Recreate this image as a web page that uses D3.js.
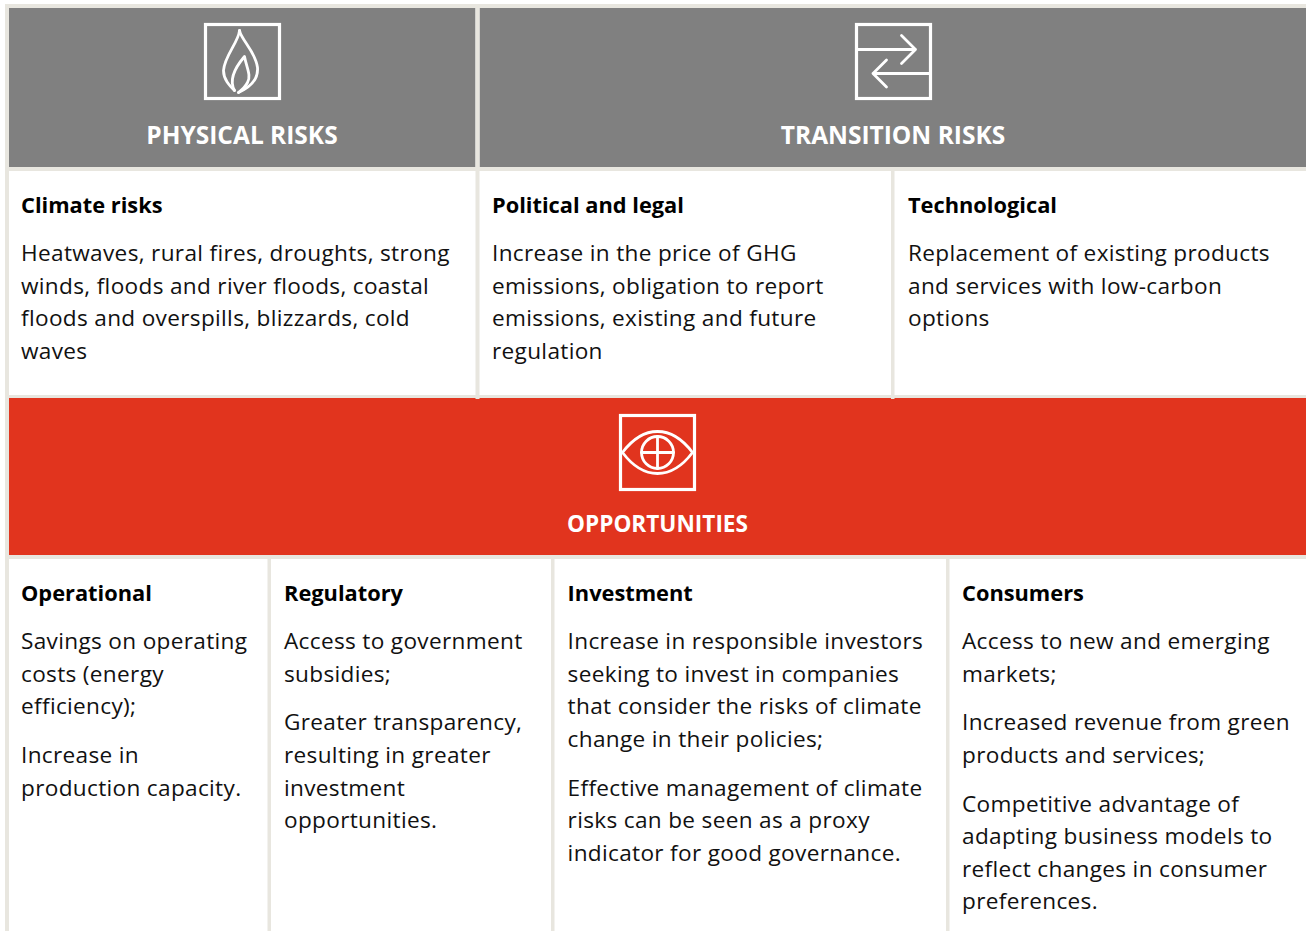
<!DOCTYPE html>
<html>
<head>
<meta charset="utf-8">
<script src="https://cdn.jsdelivr.net/npm/d3@7"></script>
<style>
  html, body { margin: 0; padding: 0; background: #fff; overflow: hidden; }
  text { font-family: "Open Sans", sans-serif; }
</style>
</head>
<body>
<svg id="chart"></svg>
<script>
const headerTitles = ['PHYSICAL RISKS', 'TRANSITION RISKS', 'OPPORTUNITIES'];
const headerIcons = ['flame', 'arrows', 'eye'];

const riskTitles = ['Climate risks', 'Political and legal', 'Technological'];
const riskParagraphs = [
  [['Heatwaves, rural fires, droughts, strong', 'winds, floods and river floods, coastal', 'floods and overspills, blizzards, cold', 'waves']],
  [['Increase in the price of GHG', 'emissions, obligation to report', 'emissions, existing and future', 'regulation']],
  [['Replacement of existing products', 'and services with low-carbon', 'options']],
];

const opportunityTitles = ['Operational', 'Regulatory', 'Investment', 'Consumers'];
const opportunityParagraphs = [
  [['Savings on operating', 'costs (energy', 'efficiency);'], ['Increase in', 'production capacity.']],
  [['Access to government', 'subsidies;'], ['Greater transparency,', 'resulting in greater', 'investment', 'opportunities.']],
  [['Increase in responsible investors', 'seeking to invest in companies', 'that consider the risks of climate', 'change in their policies;'], ['Effective management of climate', 'risks can be seen as a proxy', 'indicator for good governance.']],
  [['Access to new and emerging', 'markets;'], ['Increased revenue from green', 'products and services;'], ['Competitive advantage of', 'adapting business models to', 'reflect changes in consumer', 'preferences.']],
];

const width = 1306, height = 931;
const grey = '#808080', red = '#e1341e', rule = '#e8e6df';
const lineHeight = 32.6, titleGap = 48, paraGap = 48.7;

// table geometry, left edge of each text column and the rules between them
const riskTextX = d3.scaleOrdinal().domain(riskTitles).range([21, 492, 908]);
const oppTextX = d3.scaleOrdinal().domain(opportunityTitles).range([21, 284, 567.6, 962]);

const svg = d3.select('#chart').attr('width', width).attr('height', height)
  .style('display', 'block');

const bands = [
  {x: 9, y: 8, w: 466.5, h: 159, fill: grey},
  {x: 479.5, y: 8, w: 827, h: 159, fill: grey},
  {x: 9, y: 398, w: 1297, h: 157, fill: red},
];
svg.append('g').selectAll('rect').data(bands).join('rect')
  .attr('x', d => d.x).attr('y', d => d.y)
  .attr('width', d => d.w).attr('height', d => d.h)
  .attr('fill', d => d.fill);

const rules = [
  {x: 5, y: 4, w: 1301, h: 4},
  {x: 5, y: 4, w: 4, h: 927},
  {x: 475.5, y: 4, w: 4, h: 395},
  {x: 5, y: 167, w: 1301, h: 4},
  {x: 891, y: 171, w: 3.5, h: 228},
  {x: 5, y: 395, w: 1301, h: 3},
  {x: 5, y: 555, w: 1301, h: 4},
  {x: 267.5, y: 559, w: 3.5, h: 372},
  {x: 551, y: 559, w: 3.5, h: 372},
  {x: 946, y: 559, w: 3.5, h: 372},
];
svg.append('g').selectAll('rect').data(rules).join('rect')
  .attr('x', d => d.x).attr('y', d => d.y)
  .attr('width', d => d.w).attr('height', d => d.h)
  .attr('fill', rule);

// header labels
const headerPlaces = [
  {cx: 242, y: 144, size: 24.5},
  {cx: 893, y: 144, size: 24.5},
  {cx: 657.5, y: 532, size: 22.6},
];
svg.append('g').selectAll('text').data(headerTitles).join('text')
  .attr('x', (d, i) => headerPlaces[i].cx)
  .attr('y', (d, i) => headerPlaces[i].y)
  .attr('text-anchor', 'middle')
  .attr('font-size', (d, i) => headerPlaces[i].size)
  .attr('font-weight', 700)
  .attr('fill', '#fff')
  .text(d => d);

// icons, drawn in their own 76 unit box
const iconPlaces = [[205.5, 24.5], [856.5, 24.5], [620.5, 415.5]];
const iconShapes = {
  flame: [
    'M34 6 C36 16 50 27 52 43 C53 55 44 63 33 68',
    'M34 6 C33 18 19 31 18 46 C18 55 24 61 29 66',
    'M29 66 C24 57 27 46 39 32 C41 43 46 51 42 58 C40 62 37 65 33 68',
  ],
  arrows: [
    'M0 25 H59 M45 11 L59 25 L45 39',
    'M74 49 H16.5 M30 35.5 L16.5 49 L30 62.5',
  ],
  eye: [
    'M2 37 C23 9 51 9 72 37 C51 65 23 65 2 37 Z',
    'M37 21 V53 M21 37 H53',
  ],
};
const iconGroups = svg.append('g').selectAll('g').data(headerIcons).join('g')
  .attr('transform', (d, i) => `translate(${iconPlaces[i][0]},${iconPlaces[i][1]})`)
  .attr('fill', 'none').attr('stroke', '#fff');
iconGroups.append('rect')
  .attr('width', 74).attr('height', 74)
  .attr('stroke-width', 3.2);
iconGroups.selectAll('path').data(d => iconShapes[d]).join('path')
  .attr('d', d => d)
  .attr('stroke-width', 2.8)
  .attr('stroke-linecap', 'round')
  .attr('stroke-linejoin', 'round');
iconGroups.filter(d => d === 'eye').append('circle')
  .attr('cx', 37).attr('cy', 37).attr('r', 16)
  .attr('stroke-width', 2.8);

function drawCell(parent, title, paragraphs, x, titleY) {
  const g = parent.append('g');
  g.append('text').attr('x', x).attr('y', titleY)
    .attr('font-size', 21.8).attr('font-weight', 700).attr('fill', '#000')
    .text(title);
  let y = titleY + titleGap;
  paragraphs.forEach(lines => {
    lines.forEach((line, i) => {
      g.append('text').attr('x', x).attr('y', y + i * lineHeight)
        .attr('font-size', 22.6).attr('letter-spacing', 0.33).attr('fill', '#111')
        .text(line);
    });
    y += (lines.length - 1) * lineHeight + paraGap;
  });
}

const cells = svg.append('g');
riskTitles.forEach((title, i) => drawCell(cells, title, riskParagraphs[i], riskTextX(title), 213));
opportunityTitles.forEach((title, i) => drawCell(cells, title, opportunityParagraphs[i], oppTextX(title), 601));
</script>
</body>
</html>
